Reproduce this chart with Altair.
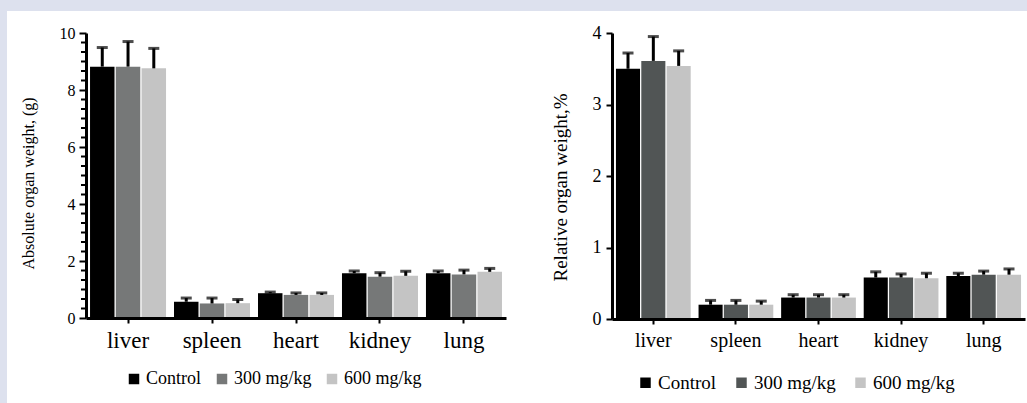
import altair as alt
import pandas as pd

organs = ["liver", "spleen", "heart", "kidney", "lung"]
groups = ["Control", "300 mg/kg", "600 mg/kg"]

# Absolute organ weight (g): means and upper error (SD)
abs_control = [8.82, 0.57, 0.87, 1.57, 1.57]
abs_300 = [8.82, 0.51, 0.81, 1.45, 1.53]
abs_600 = [8.76, 0.52, 0.81, 1.48, 1.62]
abs_err_control = [0.67, 0.13, 0.04, 0.08, 0.08]
abs_err_300 = [0.88, 0.19, 0.07, 0.14, 0.15]
abs_err_600 = [0.70, 0.13, 0.07, 0.16, 0.12]

# Relative organ weight (%): means and upper error (SD)
rel_control = [3.50, 0.20, 0.30, 0.58, 0.60]
rel_300 = [3.61, 0.20, 0.30, 0.58, 0.62]
rel_600 = [3.54, 0.20, 0.30, 0.57, 0.62]
rel_err_control = [0.22, 0.06, 0.04, 0.08, 0.04]
rel_err_300 = [0.34, 0.06, 0.04, 0.05, 0.05]
rel_err_600 = [0.21, 0.05, 0.04, 0.07, 0.08]

abs_major = [0, 2, 4, 6, 8, 10]
abs_minor = [round(k / 3, 6) for k in range(31) if k % 6 != 0]
rel_major = [0, 1, 2, 3, 4]

FONT = "Liberation Serif"


def make_df(means, errs):
    rows = []
    for g, m, e in zip(groups, means, errs):
        for o, v, s in zip(organs, m, e):
            rows.append({"organ": o, "group": g, "mean": v, "top": v + s})
    return pd.DataFrame(rows)


def panel(df, colors, width, height, ymax, yaxis, xlabel_size,
          legend_x, legend_y, legend_size, col_pad, minor=None, bg=False):
    base = alt.Chart(df)
    x = alt.X("organ:N", sort=organs,
              scale=alt.Scale(paddingInner=0.095, paddingOuter=0.048),
              axis=alt.Axis(title=None, labelAngle=0, labelFont=FONT,
                            labelFontSize=xlabel_size, labelColor="black",
                            labelPadding=6, domainColor="black", domainWidth=3,
                            tickColor="black", tickWidth=2, tickSize=5,
                            zindex=1))
    xo = alt.XOffset("group:N", sort=groups,
                     scale=alt.Scale(paddingInner=0.05))
    yscale = alt.Scale(domain=[0, ymax], nice=False)
    y = alt.Y("mean:Q", scale=yscale, axis=yaxis)
    color = alt.Color("group:N", sort=groups,
                      scale=alt.Scale(domain=groups, range=colors),
                      legend=alt.Legend(title=None, orient="none",
                                        direction="horizontal",
                                        legendX=legend_x, legendY=legend_y,
                                        symbolType="square", symbolSize=110,
                                        symbolStrokeWidth=0,
                                        labelFont=FONT,
                                        labelFontSize=legend_size,
                                        labelColor="black", labelOffset=3,
                                        columnPadding=col_pad))
    bars = base.mark_bar().encode(x=x, xOffset=xo, y=y, color=color)
    rules = base.mark_rule(color="black", strokeWidth=3).encode(
        x=x, xOffset=xo, y="mean:Q", y2="top:Q")
    caps = base.mark_tick(color="black", size=11, thickness=3).encode(
        x=x, xOffset=xo, y="top:Q")
    layers = [bars, rules, caps]
    if minor is not None:
        mt = alt.Chart(pd.DataFrame({"v": minor})).mark_rule(
            color="black", strokeWidth=2, clip=False).encode(
            y=alt.Y("v:Q", scale=yscale), x=alt.value(-5), x2=alt.value(-1))
        layers.append(mt)
    if bg:
        rect = alt.Chart(pd.DataFrame({"k": [0]})).mark_rect(
            color="white", clip=False).encode(
            x=alt.value(-79), x2=alt.value(941),
            y=alt.value(-22), y2=alt.value(370))
        layers = [rect] + layers
    return alt.layer(*layers).properties(width=width, height=height)


left_axis = alt.Axis(
    title="Absolute organ weight, (g)", titleFont=FONT, titleFontSize=16,
    titleFontWeight="normal", titleColor="black", titlePadding=23, titleY=150,
    values=abs_major, format="d", labelOverlap=False,
    labelFont=FONT, labelFontSize=16, labelColor="black", labelPadding=4,
    domainColor="black", domainWidth=3, tickColor="black", tickWidth=2,
    tickSize=7, grid=False, zindex=1)

right_axis = alt.Axis(
    title="Relative organ weight,%", titleFont=FONT, titleFontSize=19,
    titleFontWeight="normal", titleColor="black", titlePadding=22, titleY=154,
    values=rel_major, format="d", labelOverlap=False,
    labelFont=FONT, labelFontSize=18, labelColor="black", labelPadding=5,
    domainColor="black", domainWidth=3, tickColor="black", tickWidth=2,
    tickSize=6, grid=False, zindex=1)

left = panel(make_df([abs_control, abs_300, abs_600],
                     [abs_err_control, abs_err_300, abs_err_600]),
             ["#000000", "#767878", "#c4c4c4"], 420, 285, 10, left_axis,
             23, 39, 337, 18, 11, minor=abs_minor, bg=True)
right = panel(make_df([rel_control, rel_300, rel_600],
                      [rel_err_control, rel_err_300, rel_err_600]),
              ["#000000", "#515555", "#c4c4c4"], 413, 286, 4, right_axis,
              20, 24, 340, 19, 15)

chart = alt.hconcat(left, right, spacing=106, bounds="flush").resolve_scale(
    color="independent", y="independent", x="independent",
    xOffset="independent").configure(
    background="#dde1ee", font=FONT,
    padding={"left": 7, "top": 11, "right": 0, "bottom": 0},
).configure_view(stroke=None).configure_legend(
    labelFont=FONT, labelColor="black")

chart.save("out.html", embed_options={"renderer": "svg", "actions": False})
